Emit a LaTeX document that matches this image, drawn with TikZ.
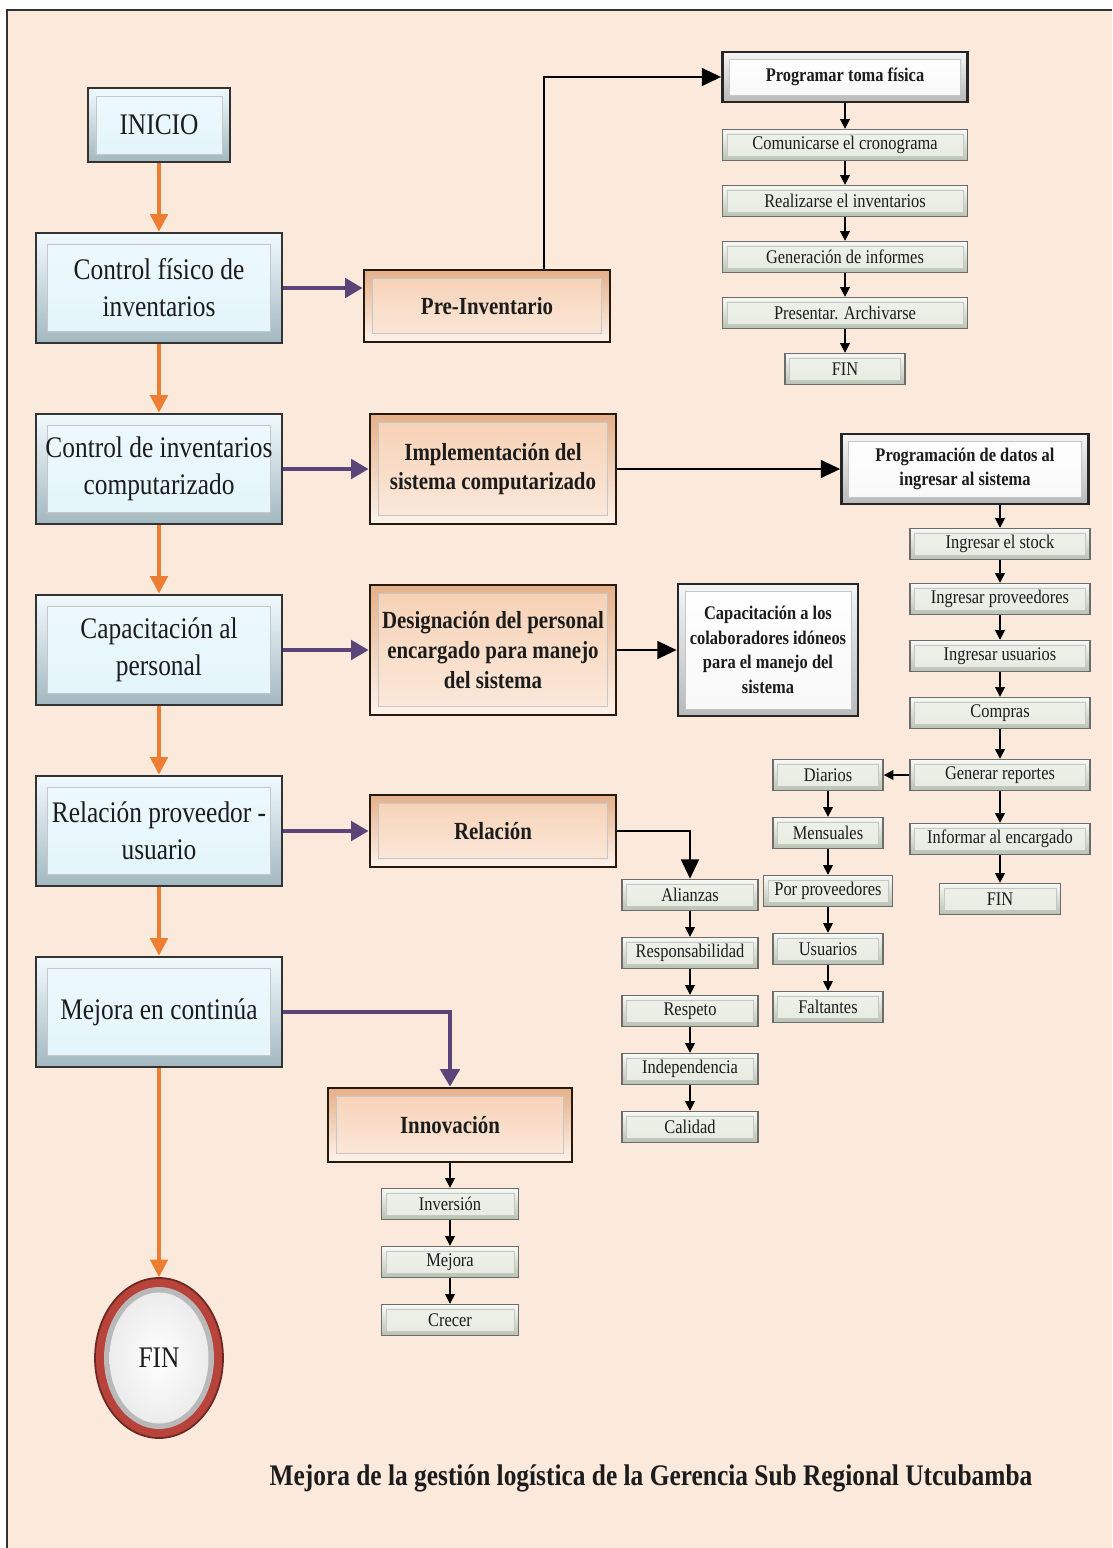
\documentclass[tikz,border=0pt]{standalone}
\usepackage{fontspec}
\setmainfont{Liberation Serif}[FakeStretch=0.85]
\usepackage{tikz}
\usetikzlibrary{positioning, arrows.meta, shapes.geometric}

\definecolor{paper}{HTML}{FBE9DC}
\definecolor{ink}{HTML}{1C1C1C}
\definecolor{blueface}{HTML}{E2F5FB}
\definecolor{blueedge}{HTML}{A3B8C0}
\definecolor{peachface}{HTML}{F6D0B3}
\definecolor{peachedge}{HTML}{E5B08A}
\definecolor{stepface}{HTML}{EEF2EA}
\definecolor{stepedge}{HTML}{B9C3B1}
\definecolor{arrorange}{HTML}{ED7D31}
\definecolor{arrpurple}{HTML}{5B4478}
\definecolor{finred}{HTML}{B8433B}

\tikzset{
  panel/.style n args={3}{path picture={
    \shade[top color=#2, bottom color=#3, draw=white!55!gray, line width=0.4pt]
      ([shift={(#1,-#1)}]path picture bounding box.north west) rectangle
      ([shift={(-#1,#1)}]path picture bounding box.south east);}},
  mainbox/.style={rectangle, draw=black!80, line width=1.6pt, minimum width=4.92cm,
    minimum height=2.2cm, inner sep=2pt, align=center, text=ink,
    top color=blueface!50!white, bottom color=blueedge,
    panel={6.5pt}{blueface!60!white}{blueface}, font=\fontsize{17}{21}\selectfont},
  subbox/.style={rectangle, draw=black!80!brown, line width=1.6pt, minimum width=4.92cm,
    minimum height=1.44cm, inner sep=2pt, align=center, text=ink,
    top color=peachedge, bottom color=white!75!peachface,
    panel={5pt}{peachface}{peachface!45!white}, font=\bfseries\fontsize{14}{17}\selectfont},
  whitebox/.style={rectangle, draw=black!85, line width=1.5pt, minimum width=4.9cm,
    minimum height=1cm, inner sep=2pt, align=center, text=ink,
    top color=gray!8, bottom color=gray!55,
    panel={4pt}{white}{gray!6}, font=\bfseries\fontsize{11}{14}\selectfont},
  stepbox/.style={rectangle, draw=gray!85!black, line width=0.8pt, minimum width=3.6cm,
    minimum height=0.62cm, inner sep=1pt, align=center, text=ink,
    top color=stepface!40!white, bottom color=stepedge,
    panel={2.5pt}{stepface}{stepface!85!stepedge}, font=\fontsize{11}{13}\selectfont},
  finnode/.style={ellipse, draw=finred!60!black, line width=1pt, fill=finred,
    minimum width=2.56cm, minimum height=3.2cm, inner sep=0pt, text=ink,
    font=\fontsize{17}{21}\selectfont, path picture={
      \fill[gray!55] (path picture bounding box.center) ellipse (1.1cm and 1.42cm);
      \shade[inner color=white, outer color=gray!15]
        (path picture bounding box.center) ellipse (0.99cm and 1.31cm);}},
  mainflow/.style={-{Triangle[length=10pt,width=10pt]}, color=arrorange, line width=2pt},
  sideflow/.style={-{Triangle[length=10pt,width=11pt]}, color=arrpurple, line width=2.3pt},
  bigarrow/.style={-{Triangle[length=11pt,width=10pt]}, color=black, line width=1.6pt},
  smallarrow/.style={-{Triangle[length=5.5pt,width=5.5pt]}, color=black, line width=0.9pt}
}

\begin{document}
\begin{tikzpicture}[node distance = 1.16cm, on grid, auto]
% sheet
\useasboundingbox (0,0) rectangle (22.24,-30.96);
\fill[paper] (0.14,-0.2) rectangle (22.24,-30.96);
\draw[line width=1.5pt, black!80] (0.14,-30.96) -- (0.14,-0.2) -- (22.24,-0.2);

% main column
\node[mainbox, minimum width=2.84cm, minimum height=1.48cm, panel={4.5pt}{blueface!60!white}{blueface}] (ini) at (3.18,-2.5) {INICIO};
\node[mainbox] (m1) [below = 3.26cm of ini] {Control físico de\\inventarios};
\node[mainbox] (m2) [below = 3.62cm of m1] {Control de inventarios\\computarizado};
\node[mainbox] (m3) [below = 3.62cm of m2] {Capacitación al\\personal};
\node[mainbox] (m4) [below = 3.62cm of m3] {Relación proveedor -\\usuario};
\node[mainbox] (m5) [below = 3.62cm of m4] {Mejora en continúa};
\node[finnode] (fin) [below = 6.92cm of m5] {FIN};

% second column
\node[subbox] (pre) [right = 6.56cm of m1, yshift=-0.36cm] {Pre-Inventario};
\node[subbox, minimum height=2.2cm] (imp) [right = 6.68cm of m2] {Implementación del\\sistema computarizado};
\node[subbox, minimum height=2.6cm] (des) [right = 6.68cm of m3] {Designación del personal\\encargado para manejo\\del sistema};
\node[subbox] (rel) [right = 6.68cm of m4] {Relación};
\node[subbox, minimum width=4.88cm, minimum height=1.48cm] (inn) [below right = 2.26cm and 5.82cm of m5] {Innovación};

% white boxes
\node[whitebox] (prog) at (16.9,-1.54) {Programar toma física};
\node[whitebox, minimum width=4.94cm, minimum height=1.4cm] (pdat) [right = 9.44cm of imp] {Programación de datos al\\ingresar al sistema};
\node[whitebox, minimum width=3.6cm, minimum height=2.64cm] (capc) [right = 5.5cm of des] {Capacitación a los\\colaboradores idóneos\\para el manejo del\\sistema};

% toma fisica
\node[stepbox, minimum width=4.9cm] (a1) [below = 1.36cm of prog] {Comunicarse el cronograma};
\node[stepbox, minimum width=4.9cm] (a2) [below = 1.12cm of a1] {Realizarse el inventarios};
\node[stepbox, minimum width=4.9cm] (a3) [below = 1.12cm of a2] {Generación de informes};
\node[stepbox, minimum width=4.9cm] (a4) [below = 1.12cm of a3] {Presentar. Archivarse};
\node[stepbox, minimum width=2.4cm] (a5) [below = 1.12cm of a4] {FIN};

% sistema
\node[stepbox] (b1) [below right = 1.5cm and 0.7cm of pdat] {Ingresar el stock};
\node[stepbox] (b2) [below = 1.1cm of b1] {Ingresar proveedores};
\node[stepbox] (b3) [below = 1.14cm of b2] {Ingresar usuarios};
\node[stepbox] (b4) [below = 1.14cm of b3] {Compras};
\node[stepbox] (b5) [below = 1.24cm of b4] {Generar reportes};
\node[stepbox] (b6) [below = 1.28cm of b5] {Informar al encargado};
\node[stepbox, minimum width=2.42cm] (b7) [below = 1.2cm of b6] {FIN};

% reportes
\node[stepbox, minimum width=2.2cm] (c1) [left = 3.44cm of b5] {Diarios};
\node[stepbox, minimum width=2.2cm] (c2) [below = of c1] {Mensuales};
\node[stepbox, minimum width=2.58cm] (c3) [below = of c2] {Por proveedores};
\node[stepbox, minimum width=2.2cm] (c4) [below = of c3] {Usuarios};
\node[stepbox, minimum width=2.2cm] (c5) [below = of c4] {Faltantes};

% relacion
\node[stepbox, minimum width=2.72cm] (d1) [below right = 1.28cm and 3.94cm of rel] {Alianzas};
\node[stepbox, minimum width=2.72cm] (d2) [below = of d1] {Responsabilidad};
\node[stepbox, minimum width=2.72cm] (d3) [below = of d2] {Respeto};
\node[stepbox, minimum width=2.72cm] (d4) [below = of d3] {Independencia};
\node[stepbox, minimum width=2.72cm] (d5) [below = of d4] {Calidad};

% innovacion
\node[stepbox, minimum width=2.74cm] (e1) [below = 1.58cm of inn] {Inversión};
\node[stepbox, minimum width=2.74cm] (e2) [below = of e1] {Mejora};
\node[stepbox, minimum width=2.74cm] (e3) [below = of e2] {Crecer};

\node[text=ink, font=\bfseries\fontsize{17}{20}\selectfont] (title) at (13.02,-29.56) {Mejora de la gestión logística de la Gerencia Sub Regional Utcubamba};

% connectors
\path[mainflow]
    (ini) edge (m1)
    (m1) edge (m2)
    (m2) edge (m3)
    (m3) edge (m4)
    (m4) edge (m5)
    (m5) edge (fin);
\path[sideflow]
    (m1.east) edge (m1.east -| pre.west)
    (m2) edge (imp)
    (m3) edge (des)
    (m4) edge (rel);
\draw[sideflow] (m5.east) -| (inn.north);
\draw[bigarrow] ([xshift=1.14cm]pre.north) |- (prog.west);
\path[bigarrow]
    (imp) edge (pdat)
    (des) edge (capc);
\draw[bigarrow] (rel.east) -| (d1.north);
\path[smallarrow]
    (prog) edge (a1) (a1) edge (a2) (a2) edge (a3) (a3) edge (a4) (a4) edge (a5)
    (b1 |- pdat.south) edge (b1) (b1) edge (b2) (b2) edge (b3) (b3) edge (b4) (b4) edge (b5)
    (b5) edge (b6) (b6) edge (b7) (b5) edge (c1)
    (c1) edge (c2) (c2) edge (c3) (c3) edge (c4) (c4) edge (c5)
    (d1) edge (d2) (d2) edge (d3) (d3) edge (d4) (d4) edge (d5)
    (inn) edge (e1) (e1) edge (e2) (e2) edge (e3);
\end{tikzpicture}
\end{document}
